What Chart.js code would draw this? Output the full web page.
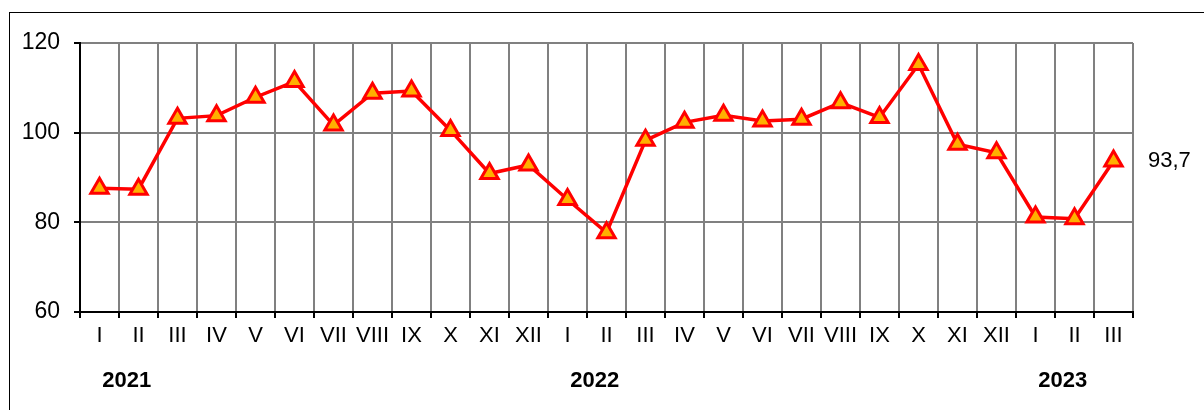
<!DOCTYPE html>
<html>
<head>
<meta charset="utf-8">
<script src="https://cdn.jsdelivr.net/npm/chart.js@4"></script>
<style>
    html, body { margin: 0; padding: 0; background: #fff; }
    #wrap { position: relative; width: 1204px; height: 410px; overflow: hidden; }
    #frame { position: absolute; left: 9px; top: 12px; width: 1300px; height: 500px; border-top: 1px solid #000; border-left: 1px solid #000; }
    canvas { position: absolute; left: 0; top: 0; }
</style>
</head>
<body>
<div id="wrap">
    <div id="frame"></div>
    <canvas id="chart" width="1204" height="410"></canvas>
</div>
<script>
// Месяцы (римские цифры) за 2021–2023
const months = ['I', 'II', 'III', 'IV', 'V', 'VI', 'VII', 'VIII', 'IX', 'X', 'XI', 'XII',
                'I', 'II', 'III', 'IV', 'V', 'VI', 'VII', 'VIII', 'IX', 'X', 'XI', 'XII',
                'I', 'II', 'III'];
const values = [87.6, 87.4, 103.2, 103.8, 107.9, 111.4, 101.7, 108.8, 109.3, 100.5, 90.9, 92.8,
                85.1, 77.7, 98.3, 102.3, 103.9, 102.6, 103.0, 106.7, 103.4, 115.2, 97.4, 95.5,
                81.2, 80.8, 93.7];
// Подписи годов и индекс месяца, с которого начинается год
const years = ['2021', '2022', '2023'];
const yearStart = [0, 12, 24];
const yTicks = [60, 80, 100, 120];

const fontFamily = '"Liberation Sans", Arial, sans-serif';

// Плагин: подписи годов под осью и значение последней точки справа
const extraLabels = {
    id: 'extraLabels',
    afterDraw(chart) {
        const ctx = chart.ctx;
        const x = chart.scales.x;
        const y = chart.scales.y;
        ctx.save();
        ctx.fillStyle = '#000';
        ctx.font = 'bold 22px ' + fontFamily;
        ctx.textAlign = 'center';
        ctx.textBaseline = 'middle';
        years.forEach(function(label, i) {
            ctx.fillText(label, x.getPixelForValue(yearStart[i] + 0.7), 381);
        });
        const last = values.length - 1;
        ctx.font = '22px ' + fontFamily;
        ctx.textAlign = 'left';
        ctx.fillText(String(values[last]).replace('.', ','), x.right + 15, y.getPixelForValue(values[last]));
        ctx.restore();
    }
};

new Chart(document.getElementById('chart'), {
    type: 'line',
    data: {
        labels: months,
        datasets: [{
            data: values,
            borderColor: '#ff0000',
            borderWidth: 3.5,
            tension: 0,
            pointStyle: 'triangle',
            pointRadius: 10,
            pointBackgroundColor: '#ffb000',
            pointBorderColor: '#ff0000',
            pointBorderWidth: 3
        }]
    },
    options: {
        responsive: false,
        animation: false,
        devicePixelRatio: 1,
        layout: { padding: { left: 0, right: 71, top: 43, bottom: 0 } },
        plugins: {
            legend: { display: false },
            tooltip: { enabled: false }
        },
        scales: {
            x: {
                offset: true,
                grid: {
                    offset: true,
                    color: '#808080',
                    lineWidth: 2,
                    tickColor: '#000',
                    tickLength: 6
                },
                border: { color: '#000', width: 2 },
                ticks: {
                    autoSkip: false,
                    maxRotation: 0,
                    color: '#000',
                    padding: 5,
                    font: { family: fontFamily, size: 22 }
                },
                afterFit(scale) { scale.height = 98; }
            },
            y: {
                min: 60,
                max: 120,
                afterBuildTicks(scale) { scale.ticks = yTicks.map(v => ({ value: v })); },
                grid: {
                    color: '#808080',
                    lineWidth: 2,
                    tickColor: '#000',
                    tickLength: 6
                },
                border: { color: '#000', width: 2 },
                ticks: {
                    color: '#000',
                    padding: 14,
                    font: { family: fontFamily, size: 23 }
                },
                afterFit(scale) { scale.width = 80; }
            }
        }
    },
    plugins: [extraLabels]
});
</script>
</body>
</html>
